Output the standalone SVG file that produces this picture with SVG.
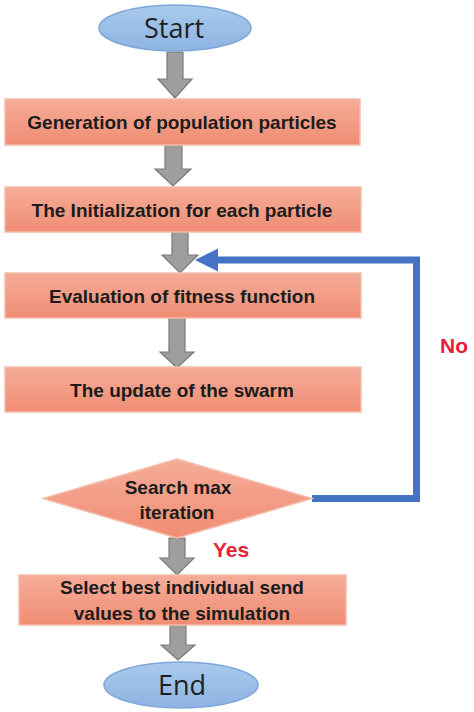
<svg xmlns="http://www.w3.org/2000/svg" width="474" height="712" viewBox="0 0 474 712">
<defs>
<linearGradient id="gBox" x1="0" y1="0" x2="0" y2="1">
<stop offset="0" stop-color="#F5AC98"/>
<stop offset="1" stop-color="#F08D74"/>
</linearGradient>
<linearGradient id="gEll" x1="0" y1="0" x2="0" y2="1">
<stop offset="0" stop-color="#A9CAEC"/>
<stop offset="1" stop-color="#8DB3E2"/>
</linearGradient>
</defs>
<style>
.box{fill:url(#gBox);stroke:#F6BCAA;stroke-width:1.5}
.ell{fill:url(#gEll);stroke:#7FA6D8;stroke-width:1.5}
.t{font-family:"Liberation Sans",Arial,sans-serif;font-weight:bold;font-size:19px;fill:#1c1c1c;text-anchor:middle}
.te{font-family:"Open Sans","Liberation Sans",sans-serif;font-size:27px;fill:#1f1f1f;text-anchor:middle}
.lab{font-family:"Liberation Sans",Arial,sans-serif;font-weight:bold;font-size:21px;fill:#E8203A}
.ga{fill:#9E9E9E;stroke:#7A7A7A;stroke-width:1.2}
.fb{fill:none;stroke:#4472C4;stroke-width:7}
</style>
<g id="connectors">
<path class="ga" d="M167,52 H183 V79 H192 L175,98 L158,79 H167 Z"/>
<path class="ga" d="M165,145 H182 V169 H191 L173,186 L155,169 H165 Z"/>
<path class="ga" d="M172,232 H188 V255 H198 L180,273 L162,255 H172 Z"/>
<path class="ga" d="M169,318 H185 V352 H194 L177,368 L160,352 H169 Z"/>
<path class="ga" d="M169,538 H185 V558 H194 L177,575 L160,558 H169 Z"/>
<path class="ga" d="M170,625 H186 V645 H195 L178,660 L161,645 H170 Z"/>
<polyline class="fb" points="312,498.5 416.5,498.5 416.5,260 214,260"/>
<path d="M195,260 L218,248.5 L218,271.5 Z" fill="#4472C4"/>
</g>
<g id="start"><ellipse class="ell" cx="175" cy="28" rx="76" ry="23"/><text class="te" x="174" y="38">Start</text></g>
<g id="gen"><rect class="box" x="5" y="99" width="355" height="46"/><text class="t" x="182" y="129">Generation of population particles</text></g>
<g id="init"><rect class="box" x="5" y="187" width="356" height="45"/><text class="t" x="182" y="217">The Initialization for each particle</text></g>
<g id="eval"><rect class="box" x="5" y="273" width="356" height="45"/><text class="t" x="182" y="303">Evaluation of fitness function</text></g>
<g id="update"><rect class="box" x="5" y="367" width="356" height="45"/><text class="t" x="182" y="397">The update of the swarm</text></g>
<g id="decision"><polygon class="box" points="177,459 312,498.5 177,538 43,498.5"/><text class="t" x="178" y="494">Search max</text><text class="t" x="177" y="519">iteration</text></g>
<g id="select"><rect class="box" x="19" y="575" width="327" height="50"/><text class="t" x="182" y="594">Select best individual send</text><text class="t" x="182" y="620">values to the simulation</text></g>
<g id="end"><ellipse class="ell" cx="181" cy="685" rx="77" ry="23"/><text class="te" x="182" y="695">End</text></g>
<text class="lab" x="440" y="353">No</text>
<text class="lab" x="213" y="557">Yes</text>
</svg>
